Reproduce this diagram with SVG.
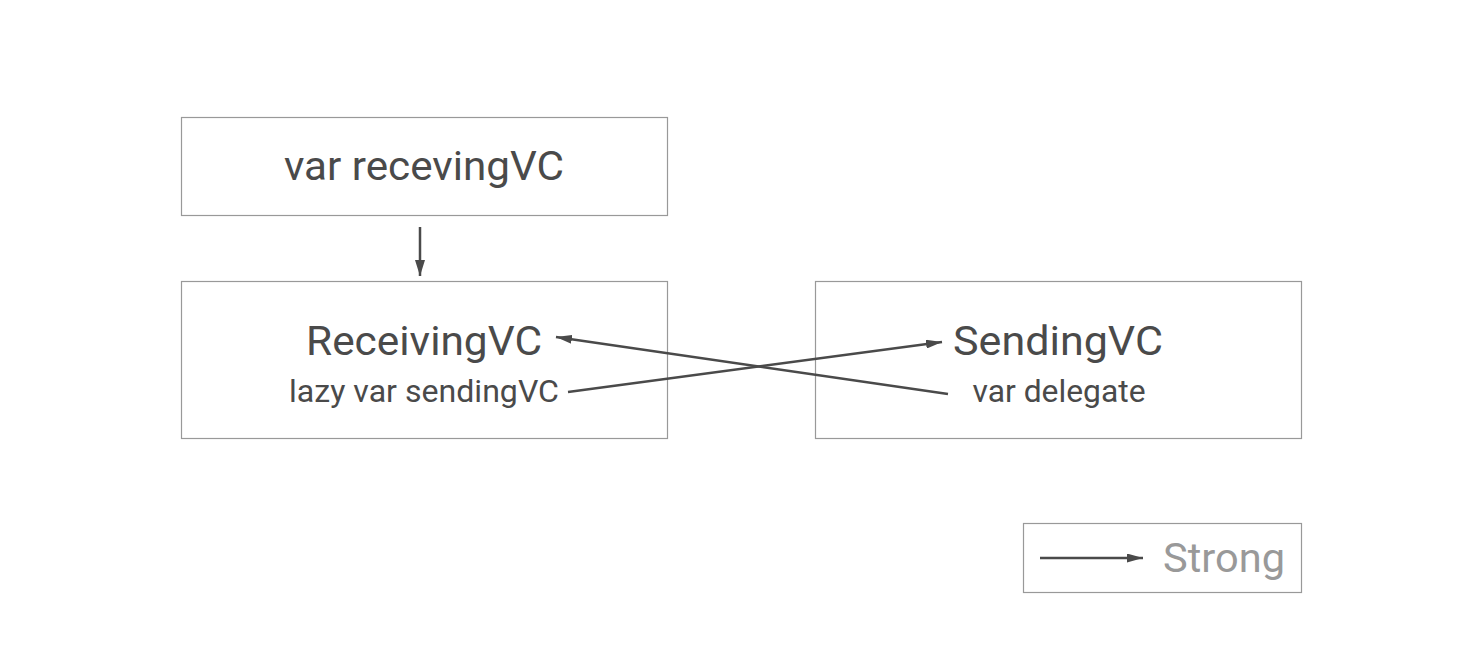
<svg xmlns="http://www.w3.org/2000/svg" width="1482" height="664" viewBox="0 0 1482 664">
<style>
.box{fill:#fff;stroke:#999;stroke-width:1.2}
.t{font-family:Roboto,"Liberation Sans",Arial,sans-serif;fill:#4a4a4a;text-anchor:middle}
.big{font-size:41px}
.small{font-size:31px}
.c{fill:none;stroke:#4a4a4a;stroke-width:2.5}
</style>
<defs>
<marker id="ah" viewBox="0 0 16 10" refX="16" refY="5" markerWidth="16" markerHeight="10" markerUnits="userSpaceOnUse" orient="auto"><path d="M0,0L16,5L0,10z" fill="#4a4a4a"/></marker>
<marker id="ahl" viewBox="0 0 16 9" refX="16" refY="4.5" markerWidth="16" markerHeight="9" markerUnits="userSpaceOnUse" orient="auto"><path d="M0,0L16,4.5L0,9z" fill="#4a4a4a"/></marker>
</defs>
<rect width="1482" height="664" fill="#fff"/>
<g id="varReceivingVC">
<rect class="box" x="181.5" y="117.5" width="486" height="98"/>
<text class="t big" x="424" y="180" textLength="280" lengthAdjust="spacingAndGlyphs">var recevingVC</text>
</g>
<g id="ReceivingVC">
<rect class="box" x="181.5" y="281.5" width="486" height="157"/>
<text class="t big" x="424" y="355" textLength="236" lengthAdjust="spacingAndGlyphs">ReceivingVC</text>
<text class="t small" x="424" y="402" textLength="270" lengthAdjust="spacingAndGlyphs">lazy var sendingVC</text>
</g>
<g id="SendingVC">
<rect class="box" x="815.5" y="281.5" width="486" height="157"/>
<text class="t big" x="1058" y="355" textLength="210" lengthAdjust="spacingAndGlyphs">SendingVC</text>
<text class="t small" x="1059" y="402" textLength="173" lengthAdjust="spacingAndGlyphs">var delegate</text>
</g>
<g id="legend">
<rect class="box" x="1023.5" y="523.5" width="278" height="69"/>
<line class="c" x1="1040" y1="558" x2="1143" y2="558" marker-end="url(#ahl)"/>
<text class="t big" x="1224" y="572" style="fill:#999" textLength="122" lengthAdjust="spacingAndGlyphs">Strong</text>
</g>
<g id="connectors">
<line class="c" x1="420" y1="227" x2="420" y2="276" marker-end="url(#ah)"/>
<line class="c" x1="568" y1="392" x2="942" y2="342" marker-end="url(#ahl)"/>
<line class="c" x1="948" y1="394" x2="556" y2="337" marker-end="url(#ahl)"/>
</g>
</svg>
